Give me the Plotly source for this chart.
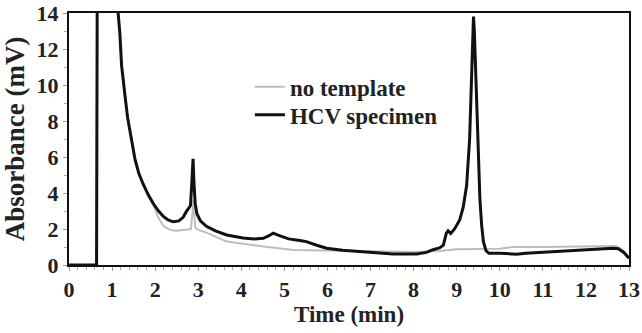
import plotly.graph_objects as go

# HCV specimen (black)
hcv_x = [0, 0.64, 0.66, 1.1, 1.14, 1.18, 1.22, 1.26, 1.31, 1.36, 1.42, 1.53, 1.62, 1.72, 1.84, 1.96,
         2.08, 2.19, 2.3, 2.42, 2.55, 2.65, 2.72, 2.77, 2.82, 2.85, 2.88, 2.9, 2.93, 2.97, 3.05,
         3.19, 3.4, 3.66, 4.04, 4.3, 4.51, 4.62, 4.74, 4.9, 5.1, 5.36, 5.51, 5.75, 5.98, 6.35,
         6.75, 7.1, 7.52, 8.07, 8.3, 8.45, 8.6, 8.69, 8.76, 8.8, 8.86, 8.95, 9.07, 9.15, 9.23,
         9.3, 9.34, 9.37, 9.39, 9.41, 9.44, 9.47, 9.51, 9.54, 9.58, 9.62, 9.68, 9.75, 10.0,
         10.39, 10.6, 11.0, 11.5, 12.0, 12.63, 12.75, 12.88, 13.0]
hcv_y = [0, 0, 20, 20, 14, 12.9, 11.1, 10.1, 9.2, 8.2, 7.35, 5.9, 5.1, 4.5, 3.9, 3.4,
         3.0, 2.7, 2.5, 2.4, 2.45, 2.65, 2.95, 3.15, 3.3, 4.5, 5.9, 4.6, 3.4, 2.85, 2.45,
         2.15, 1.9, 1.67, 1.5, 1.45, 1.48, 1.6, 1.77, 1.62, 1.45, 1.36, 1.3, 1.1, 0.93, 0.82,
         0.74, 0.66, 0.61, 0.61, 0.7, 0.85, 0.95, 1.1, 1.77, 1.9, 1.75, 2.0, 2.5, 3.2, 4.4,
         7.0, 10.5, 13.0, 13.8, 13.0, 10.8, 8.5, 5.2, 3.6, 2.2, 1.3, 0.8, 0.65, 0.65,
         0.6, 0.65, 0.7, 0.75, 0.85, 0.93, 0.9, 0.7, 0.37]

# no template (gray)
nt_x = [0, 0.64, 0.66, 1.1, 1.14, 1.18, 1.22, 1.26, 1.31, 1.36, 1.42, 1.53, 1.62, 1.72, 1.84,
        1.96, 2.08, 2.2, 2.35, 2.5, 2.7, 2.83, 2.87, 2.89, 2.93, 3.0, 3.19, 3.66, 4.43, 5.2,
        5.98, 7.0, 8.0, 8.6, 9.0, 10.0, 10.3, 11.0, 12.35, 12.7, 12.85, 13.0]
nt_y = [0, 0, 20, 20, 14, 12.9, 11.1, 10.1, 9.2, 8.2, 7.35, 5.9, 5.1, 4.5, 3.85,
        3.3, 2.6, 2.15, 1.95, 1.9, 1.95, 2.0, 3.0, 3.6, 2.1, 1.95, 1.8, 1.3, 1.05, 0.84,
        0.8, 0.75, 0.72, 0.78, 0.88, 0.9, 1.0, 1.0, 1.05, 1.05, 0.85, 0.4]

x_ticks = list(range(0, 14))
y_ticks = list(range(0, 15, 2))

FAM = "Liberation Serif"
TXT = "#222222"

def f(size):
    return dict(family=FAM, size=size, color=TXT, weight="bold")

fig = go.Figure()
fig.add_trace(go.Scatter(x=nt_x, y=nt_y, mode="lines", name="no template", legend="legend",
                         line=dict(color="#bdbdbd", width=2)))
fig.add_trace(go.Scatter(x=hcv_x, y=hcv_y, mode="lines", name="HCV specimen", legend="legend2",
                         line=dict(color="#111111", width=3)))

fig.update_xaxes(range=[0, 13], tickvals=x_ticks, ticktext=[str(t) for t in x_ticks],
                 showline=True, mirror=True, linecolor="#111111", linewidth=2,
                 showgrid=False, zeroline=False, ticks="outside", ticklen=4,
                 tickcolor="#999999", tickwidth=1, tickfont=f(22),
                 minor=dict(dtick=0.2, ticks="outside", ticklen=3, tickcolor="#aaaaaa"),
                 title=dict(text="Time (min)", standoff=2, font=f(23)))
fig.update_yaxes(range=[0, 14], tickvals=y_ticks, ticktext=[str(t) for t in y_ticks],
                 showline=True, mirror=True, linecolor="#111111", linewidth=2,
                 showgrid=False, zeroline=False, ticks="outside", ticklen=4,
                 tickcolor="#999999", tickwidth=1, tickfont=f(22),
                 minor=dict(dtick=1, ticks="outside", ticklen=3, tickcolor="#aaaaaa"),
                 title=dict(text="Absorbance (mV)", standoff=4, font=f(27)))

legend_common = dict(xanchor="left", yanchor="top", bgcolor="rgba(0,0,0,0)",
                     itemwidth=30, font=f(23))

fig.update_layout(
    template="none",
    font=dict(family=FAM, color=TXT, weight="bold"),
    width=642, height=333,
    margin=dict(l=69, r=13, t=13, b=68),
    paper_bgcolor="white", plot_bgcolor="white",
    showlegend=True,
    legend=dict(x=0.323, y=0.792, **legend_common),
    legend2=dict(x=0.323, y=0.681, **legend_common),
)

fig.write_html("out.html")
